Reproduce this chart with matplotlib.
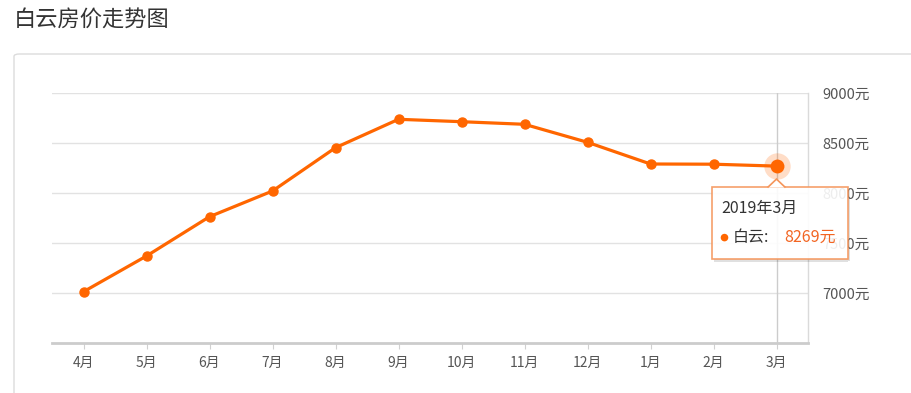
import matplotlib
matplotlib.use("Agg")
from matplotlib import pyplot as plt
from matplotlib.patches import FancyBboxPatch, Rectangle, Polygon
from matplotlib.transforms import IdentityTransform

plt.rcParams['font.family'] = ['Noto Sans CJK SC', 'DejaVu Sans']

# data
months = ["4月", "5月", "6月", "7月", "8月", "9月", "10月", "11月", "12月", "1月", "2月", "3月"]
prices = [7013, 7370, 7763, 8020, 8453, 8737, 8713, 8687, 8507, 8290, 8288, 8269]
yticks = [7000, 7500, 8000, 8500, 9000]
title = "白云房价走势图"
tip_date = "2019年3月"
tip_name = "白云:"

orange = "#ff6600"
W, H = 911, 393

fig = plt.figure(figsize=(W / 100, H / 100), dpi=100)
fig.patch.set_facecolor("white")

# title and outer panel
fig.text(14 / W, 1 - 20 / H, title, fontsize=16, color="#333333", va="center", ha="left")
panel = FancyBboxPatch((14 / W, -0.1), 1.2, 1 - 54 / H + 0.1,
                       boxstyle="round,pad=0,rounding_size=0.006",
                       transform=fig.transFigure, facecolor="white",
                       edgecolor="#dcdcdc", linewidth=1, zorder=-5)
fig.patches.append(panel)

ax = fig.add_axes([52 / W, 50 / H, 756 / W, 250 / H])
ax.set_facecolor("none")
x = list(range(len(months)))
ax.set_xlim(-0.5, len(months) - 0.5)
ax.set_ylim(6500, 9000)

for v in yticks:
    ax.axhline(v, color="#e2e2e2", linewidth=1, zorder=1)

# axis pointer on the last month
ax.axvline(x[-1], color="#cccccc", linewidth=1, zorder=1)

ax.plot(x, prices, color=orange, linewidth=2.3, marker="o", markersize=6.5, zorder=3)
ax.plot(x[-1], prices[-1], "o", color=orange, markersize=19, alpha=0.22, zorder=3,
        markeredgewidth=0)
ax.plot(x[-1], prices[-1], "o", color=orange, markersize=10, zorder=4,
        markeredgewidth=0)

for s in ["top", "left"]:
    ax.spines[s].set_visible(False)
ax.spines["right"].set_color("#dadada")
ax.spines["right"].set_linewidth(1)
ax.spines["bottom"].set_color("#cccccc")
ax.spines["bottom"].set_linewidth(2)

ax.set_xticks(x)
ax.set_xticklabels(months)
ax.tick_params(axis="x", length=4, color="#d0d0d0", labelsize=10, labelcolor="#555555", pad=5)
ax.yaxis.tick_right()
ax.set_yticks(yticks)
ax.set_yticklabels([f"{v}元" for v in yticks])
ax.tick_params(axis="y", length=0, labelsize=10.5, labelcolor="#555555", pad=10)

# tooltip, anchored to the last point
fig.canvas.draw()
px, py = ax.transData.transform((x[-1], prices[-1]))
tr = IdentityTransform()
left, right = px - 65, px + 71
top, bot = py - 21, py - 93
shadow_r = Rectangle((right, bot - 2), 2.5, top - bot - 1, transform=tr,
                     facecolor="#000000", alpha=0.12, edgecolor="none", zorder=8)
shadow_b = Rectangle((left + 2, bot - 2.5), right - left - 2, 2.5, transform=tr,
                     facecolor="#000000", alpha=0.12, edgecolor="none", zorder=8)
box = Rectangle((left, bot), right - left, top - bot, transform=tr,
                facecolor="white", alpha=0.9, edgecolor="#f5955a", linewidth=1.2, zorder=9)
arrow = Polygon([(px - 9, top - 0.5), (px, top + 8), (px + 9, top - 0.5)], closed=False,
                transform=tr, facecolor="white", edgecolor="#f5955a", linewidth=1.2, zorder=10)
fig.patches.extend([shadow_r, shadow_b, box, arrow])
fig.text(left + 10, py - 42, tip_date, transform=tr, fontsize=11.5, color="#333333",
         va="center", ha="left", zorder=11)
fig.patches.append(plt.Circle((left + 13, py - 71.5), 3.8, transform=tr,
                              facecolor=orange, edgecolor="none", zorder=11))
fig.text(left + 21, py - 71.5, tip_name, transform=tr, fontsize=11.5, color="#333333",
         va="center", ha="left", zorder=11)
fig.text(px + 8, py - 71.5, f"{prices[-1]}元", transform=tr, fontsize=11.5, color="#f26522",
         va="center", ha="left", zorder=11)

fig.savefig("out.png", dpi=100)
